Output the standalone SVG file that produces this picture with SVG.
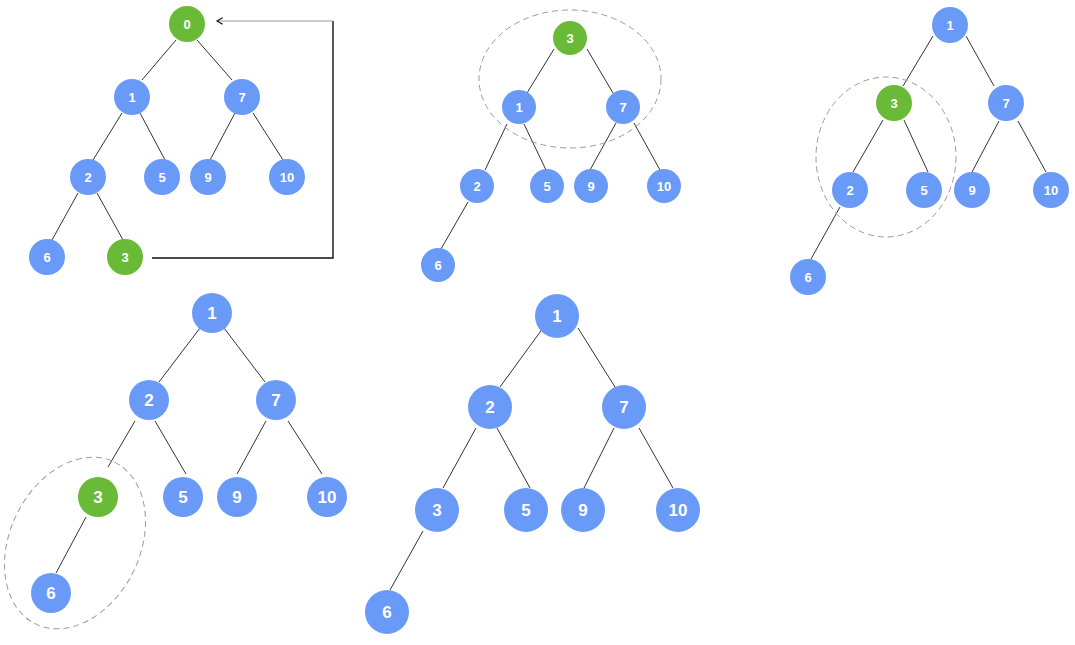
<svg xmlns="http://www.w3.org/2000/svg" width="1075" height="645" viewBox="0 0 1075 645">
  <defs>
    <style>
      .n { fill: #6a9af7; }
      .g { fill: #69bb37; }
      .t { fill: #ffffff; font-family: "Liberation Sans", Arial, sans-serif; font-weight: bold; text-anchor: middle; dominant-baseline: central; }
      .s { font-size: 13px; }
      .b { font-size: 17px; }
      .e { stroke: #333333; stroke-width: 1; fill: none; }
      .grp { fill: none; stroke: #9a9a9a; stroke-width: 1; stroke-dasharray: 6 4; }
      .arr { fill: none; stroke: #111111; stroke-width: 1.4; }
      .arr2 { fill: none; stroke: #9a9a9a; stroke-width: 1; }
    </style>
    <marker id="open" viewBox="0 0 10 10" refX="8" refY="5" markerWidth="8" markerHeight="8" orient="auto" markerUnits="userSpaceOnUse">
      <path d="M1,1 L8,5 L1,9" fill="none" stroke="#111111" stroke-width="1.4"/>
    </marker>
  </defs>
  <rect width="1075" height="645" fill="#ffffff"/>

  <!-- connectors -->
  <g id="connectors">
    <!-- tree A -->
    <line class="e" x1="176" y1="40" x2="142" y2="80"/>
    <line class="e" x1="197" y1="40" x2="232" y2="80"/>
    <line class="e" x1="122" y1="113" x2="93" y2="160"/>
    <line class="e" x1="140" y1="113" x2="165" y2="160"/>
    <line class="e" x1="235" y1="113" x2="210" y2="160"/>
    <line class="e" x1="253" y1="113" x2="283" y2="160"/>
    <line class="e" x1="78" y1="193" x2="52" y2="240"/>
    <line class="e" x1="97" y1="193" x2="123" y2="240"/>
    <!-- return arrow from 3 up to 0 -->
    <path class="arr" d="M152,258 H333 V21"/>
    <path class="arr2" d="M333,21 H217" marker-end="url(#open)"/>

    <!-- tree B -->
    <line class="e" x1="554" y1="49" x2="527" y2="93"/>
    <line class="e" x1="587" y1="49" x2="613" y2="93"/>
    <line class="e" x1="507" y1="124" x2="485" y2="170"/>
    <line class="e" x1="524" y1="124" x2="546" y2="170"/>
    <line class="e" x1="616" y1="123" x2="590" y2="170"/>
    <line class="e" x1="634" y1="123" x2="660" y2="170"/>
    <line class="e" x1="468" y1="202" x2="441" y2="249"/>

    <!-- tree C -->
    <line class="e" x1="933" y1="36" x2="903" y2="86"/>
    <line class="e" x1="966" y1="36" x2="994" y2="86"/>
    <line class="e" x1="883" y1="120" x2="853" y2="172"/>
    <line class="e" x1="904" y1="120" x2="928" y2="172"/>
    <line class="e" x1="999" y1="121" x2="972" y2="172"/>
    <line class="e" x1="1018" y1="121" x2="1046" y2="172"/>
    <line class="e" x1="840" y1="207" x2="811" y2="259"/>

    <!-- tree D -->
    <line class="e" x1="200" y1="328" x2="159" y2="382"/>
    <line class="e" x1="224" y1="328" x2="265" y2="382"/>
    <line class="e" x1="135" y1="421" x2="108" y2="467"/>
    <line class="e" x1="155" y1="421" x2="186" y2="474"/>
    <line class="e" x1="266" y1="421" x2="237" y2="474"/>
    <line class="e" x1="288" y1="421" x2="322" y2="474"/>
    <line class="e" x1="86" y1="517" x2="56" y2="573"/>

    <!-- tree E -->
    <line class="e" x1="543" y1="328" x2="500" y2="387"/>
    <line class="e" x1="578" y1="328" x2="615" y2="387"/>
    <line class="e" x1="476" y1="428" x2="443" y2="488"/>
    <line class="e" x1="497" y1="428" x2="530" y2="488"/>
    <line class="e" x1="614" y1="428" x2="584" y2="488"/>
    <line class="e" x1="639" y1="428" x2="673" y2="488"/>
    <line class="e" x1="423" y1="531" x2="390" y2="590"/>
  </g>

  <!-- dashed groupings -->
  <g id="groupings">
    <ellipse class="grp" cx="570" cy="79" rx="91" ry="69"/>
    <ellipse class="grp" cx="886" cy="157" rx="70" ry="80"/>
    <ellipse class="grp" cx="75" cy="543" rx="90" ry="65" transform="rotate(-64 75 543)"/>
  </g>

  <!-- tree A -->
  <g id="a0"><circle class="g" cx="187" cy="24" r="18"/><text class="t s" x="187" y="24">0</text></g>
  <g id="a1"><circle class="n" cx="132" cy="97" r="18"/><text class="t s" x="132" y="97">1</text></g>
  <g id="a7"><circle class="n" cx="242" cy="97" r="18"/><text class="t s" x="242" y="97">7</text></g>
  <g id="a2"><circle class="n" cx="88" cy="177" r="18"/><text class="t s" x="88" y="177">2</text></g>
  <g id="a5"><circle class="n" cx="162" cy="177" r="18"/><text class="t s" x="162" y="177">5</text></g>
  <g id="a9"><circle class="n" cx="208" cy="177" r="18"/><text class="t s" x="208" y="177">9</text></g>
  <g id="a10"><circle class="n" cx="287" cy="177" r="18"/><text class="t s" x="287" y="177">10</text></g>
  <g id="a6"><circle class="n" cx="47" cy="257" r="18"/><text class="t s" x="47" y="257">6</text></g>
  <g id="a3"><circle class="g" cx="125" cy="257" r="18"/><text class="t s" x="125" y="257">3</text></g>

  <!-- tree B -->
  <g id="b3"><circle class="g" cx="570" cy="38" r="17"/><text class="t s" x="570" y="38">3</text></g>
  <g id="b1"><circle class="n" cx="519" cy="107" r="17"/><text class="t s" x="519" y="107">1</text></g>
  <g id="b7"><circle class="n" cx="623" cy="107" r="17"/><text class="t s" x="623" y="107">7</text></g>
  <g id="b2"><circle class="n" cx="477" cy="186" r="17"/><text class="t s" x="477" y="186">2</text></g>
  <g id="b5"><circle class="n" cx="547" cy="186" r="17"/><text class="t s" x="547" y="186">5</text></g>
  <g id="b9"><circle class="n" cx="591" cy="186" r="17"/><text class="t s" x="591" y="186">9</text></g>
  <g id="b10"><circle class="n" cx="664" cy="186" r="17"/><text class="t s" x="664" y="186">10</text></g>
  <g id="b6"><circle class="n" cx="438" cy="265" r="17"/><text class="t s" x="438" y="265">6</text></g>

  <!-- tree C -->
  <g id="c1"><circle class="n" cx="950" cy="25" r="18"/><text class="t s" x="950" y="25">1</text></g>
  <g id="c3"><circle class="g" cx="894" cy="103" r="18"/><text class="t s" x="894" y="103">3</text></g>
  <g id="c7"><circle class="n" cx="1006" cy="103" r="18"/><text class="t s" x="1006" y="103">7</text></g>
  <g id="c2"><circle class="n" cx="850" cy="190" r="18"/><text class="t s" x="850" y="190">2</text></g>
  <g id="c5"><circle class="n" cx="924" cy="190" r="18"/><text class="t s" x="924" y="190">5</text></g>
  <g id="c9"><circle class="n" cx="972" cy="190" r="18"/><text class="t s" x="972" y="190">9</text></g>
  <g id="c10"><circle class="n" cx="1051" cy="190" r="18"/><text class="t s" x="1051" y="190">10</text></g>
  <g id="c6"><circle class="n" cx="808" cy="277" r="18"/><text class="t s" x="808" y="277">6</text></g>

  <!-- tree D -->
  <g id="d1"><circle class="n" cx="212" cy="313" r="20"/><text class="t b" x="212" y="313">1</text></g>
  <g id="d2"><circle class="n" cx="149" cy="400" r="20"/><text class="t b" x="149" y="400">2</text></g>
  <g id="d7"><circle class="n" cx="276" cy="400" r="20"/><text class="t b" x="276" y="400">7</text></g>
  <g id="d3"><circle class="g" cx="98" cy="497" r="20"/><text class="t b" x="98" y="497">3</text></g>
  <g id="d5"><circle class="n" cx="183" cy="497" r="20"/><text class="t b" x="183" y="497">5</text></g>
  <g id="d9"><circle class="n" cx="237" cy="497" r="20"/><text class="t b" x="237" y="497">9</text></g>
  <g id="d10"><circle class="n" cx="327" cy="497" r="20"/><text class="t b" x="327" y="497">10</text></g>
  <g id="d6"><circle class="n" cx="51" cy="593" r="20"/><text class="t b" x="51" y="593">6</text></g>

  <!-- tree E -->
  <g id="e1"><circle class="n" cx="557" cy="316" r="22"/><text class="t b" x="557" y="316">1</text></g>
  <g id="e2"><circle class="n" cx="490" cy="407" r="22"/><text class="t b" x="490" y="407">2</text></g>
  <g id="e7"><circle class="n" cx="624" cy="407" r="22"/><text class="t b" x="624" y="407">7</text></g>
  <g id="e3"><circle class="n" cx="437" cy="510" r="22"/><text class="t b" x="437" y="510">3</text></g>
  <g id="e5"><circle class="n" cx="526" cy="510" r="22"/><text class="t b" x="526" y="510">5</text></g>
  <g id="e9"><circle class="n" cx="583" cy="510" r="22"/><text class="t b" x="583" y="510">9</text></g>
  <g id="e10"><circle class="n" cx="678" cy="510" r="22"/><text class="t b" x="678" y="510">10</text></g>
  <g id="e6"><circle class="n" cx="387" cy="612" r="22"/><text class="t b" x="387" y="612">6</text></g>
</svg>
